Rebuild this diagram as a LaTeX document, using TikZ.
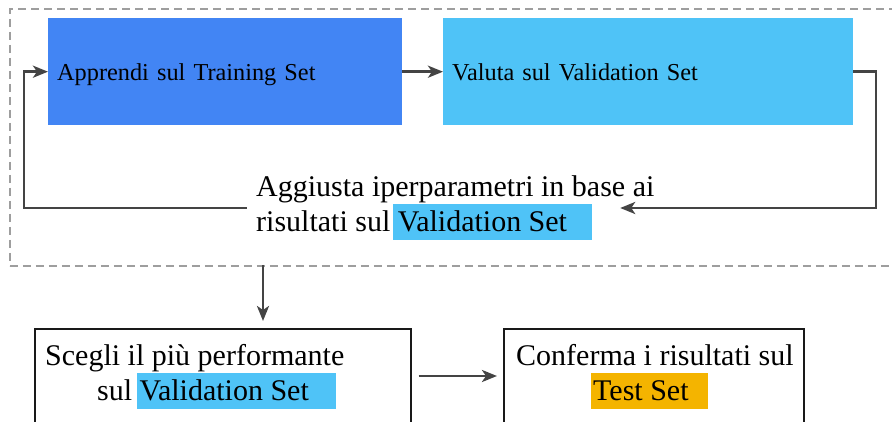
\documentclass[tikz,border=0pt]{standalone}
\usepackage{fontspec}
\setmainfont{Liberation Serif}
\usetikzlibrary{arrows.meta}
\definecolor{bluedark}{HTML}{4285F4}
\definecolor{bluelight}{HTML}{4FC3F7}
\definecolor{orangeset}{HTML}{F4B400}
\definecolor{arrowgray}{HTML}{444444}
\definecolor{framegray}{HTML}{9E9E9E}
\tikzset{
  arr/.style={draw=arrowgray, line width=2.8pt, -{Stealth[length=15pt,width=12pt,inset=4pt]}},
  topbox/.style={anchor=north west, inner sep=0pt, minimum width=#1, minimum height=107pt,
    text width=#1-18pt, inner xsep=9pt, align=left, text height=20pt, text depth=3pt,
    font=\fontsize{24.3}{29}\selectfont},
  bigtxt/.style={anchor=base west, inner sep=0pt, font=\fontsize{30}{36}\selectfont},
  hl/.style={anchor=north west, inner sep=0pt, minimum height=36pt, minimum width=#1},
  outbox/.style={anchor=north west, draw=black!90, line width=1.6pt, inner sep=0pt,
    minimum width=#1, minimum height=200pt},
}
\begin{document}
\begin{tikzpicture}[x=1pt,y=-1pt]
\useasboundingbox (0,0) rectangle (892,422);
\clip (0,0) rectangle (892,422);
% dashed frame
\node[anchor=north west, draw=framegray, dash pattern=on 8pt off 5pt, line width=1.6pt,
  inner sep=0pt, minimum width=900pt, minimum height=257pt] (frame) at (9,8) {};
% top boxes
\node[topbox=354pt, fill=bluedark] (b1) at (48,18) {Apprendi sul Training Set};
\node[topbox=410pt, fill=bluelight] (b2) at (443,18) {Valuta sul Validation Set};
% label of the loop
\node[hl=199pt, fill=bluelight] (hla) at (393,204) {};
\node[bigtxt] (la1) at (256,197) {Aggiusta iperparametri in base ai};
\node[bigtxt] (la2) at (256,232) {risultati sul Validation Set};
\node[inner sep=0pt, minimum width=373pt, minimum height=0pt] (lbl) at (433.5,208) {};
\coordinate (cr) at (876,208);
\coordinate (cl) at (24,208);
% loop connectors
\draw[arr] (b1.east) -- (b2.west);
\draw[arr] (b2.east) -| (cr) -- (lbl.east);
\draw[arr] (lbl.west) -- (cl) |- (b1.west);
% bottom boxes
\node[outbox=376pt] (s1) at (34,328) {};
\node[outbox=300pt] (s2) at (503,328) {};
\node[hl=199pt, fill=bluelight] (hlb) at (137,373) {};
\node[hl=117pt, fill=orangeset] (hlc) at (591,373) {};
\node[bigtxt] (sa1) at (45,365) {Scegli il più performante};
\node[bigtxt] (sa2) at (97,400) {sul Validation Set};
\node[bigtxt] (sb1) at (516,365) {Conferma i risultati sul};
\node[bigtxt] (sb2) at (593,400) {Test Set};
% connectors below
\coordinate (dtop) at (263,265);
\coordinate (ymid) at (0,376);
\draw[arr] (dtop) -- ([yshift=7pt]s1.north -| dtop);
\draw[arr, shorten <=7pt, shorten >=6pt] (s1.east |- ymid) -- (s2.west |- ymid);
\end{tikzpicture}
\end{document}
